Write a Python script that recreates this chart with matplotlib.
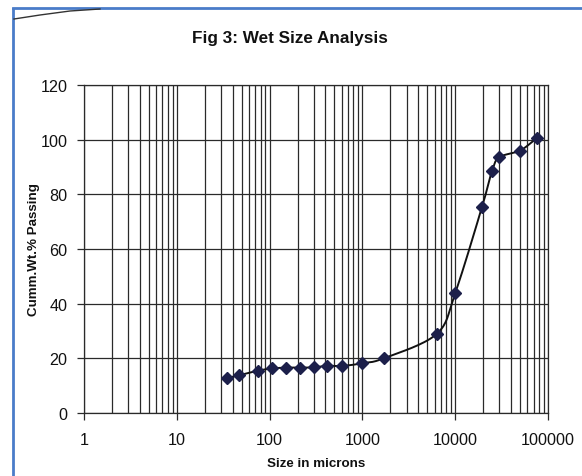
import numpy as np
import matplotlib
matplotlib.use("Agg")
import matplotlib.pyplot as plt
from matplotlib.ticker import LogLocator, FixedLocator, NullFormatter
from matplotlib.lines import Line2D

# ---- data ----
size_microns = [35, 47, 75, 107, 150, 212, 300, 417, 600, 1000,
                1700, 6300, 10000, 19500, 25000, 30000, 50000, 76000]
cum_passing = [12.8, 13.8, 15.5, 16.3, 16.6, 16.6, 16.7, 17.3, 17.2, 18.2,
               20.0, 28.9, 43.9, 75.5, 88.7, 93.6, 96.0, 100.6]
x_tick_values = [1, 10, 100, 1000, 10000, 100000]
x_tick_labels = ["1", "10", "100", "1000", "10000", "100000"]
y_tick_values = [0, 20, 40, 60, 80, 100, 120]

title = "Fig 3: Wet Size Analysis"
xlabel = "Size in microns"
ylabel = "Cumm.Wt.% Passing"

plt.rcParams['font.family'] = ['Liberation Sans', 'DejaVu Sans']

fig = plt.figure(figsize=(5.82, 4.77), dpi=100)
ax = fig.add_axes([84 / 582, 1 - 414 / 477, (548 - 84) / 582, (414 - 86) / 477])

ax.set_xscale('log')
ax.set_xlim(1, 100000)
ax.set_ylim(0, 120)

# grid
ax.xaxis.set_major_locator(FixedLocator(x_tick_values))
ax.xaxis.set_minor_locator(LogLocator(base=10, subs=np.arange(2, 10)))
ax.xaxis.set_minor_formatter(NullFormatter())
ax.set_xticks(x_tick_values)
ax.set_xticklabels(x_tick_labels)
ax.set_yticks(y_tick_values)
ax.grid(which='both', axis='x', color='#2a2a2a', linewidth=0.9)
ax.grid(which='major', axis='y', color='#2a2a2a', linewidth=0.9)
ax.set_axisbelow(True)
ax.tick_params(axis='both', which='major', length=5, width=0.9, color='#2a2a2a',
               labelsize=11.6, pad=7)
ax.tick_params(axis='x', which='major', pad=9)
ax.tick_params(axis='x', which='minor', length=0)
for s in ax.spines.values():
    s.set_color('#2a2a2a')
    s.set_linewidth(0.9)

# smooth line (Catmull-Rom in display-like space)
su, sv = 93.0, 328.0 / 120.0
u = np.log10(np.array(size_microns, float)) * su
v = np.array(cum_passing, float) * sv
P = np.column_stack([u, v])
Pe = np.vstack([P[0] * 2 - P[1], P, P[-1] * 2 - P[-2]])
curve = []
t = np.linspace(0, 1, 20)[:, None]
for i in range(1, len(Pe) - 2):
    p0, p1, p2, p3 = Pe[i - 1], Pe[i], Pe[i + 1], Pe[i + 2]
    seg = 0.5 * ((2 * p1) + (-p0 + p2) * t + (2 * p0 - 5 * p1 + 4 * p2 - p3) * t ** 2
                 + (-p0 + 3 * p1 - 3 * p2 + p3) * t ** 3)
    curve.append(seg if i == 1 else seg[1:])
curve = np.vstack(curve)
ax.plot(10 ** (curve[:, 0] / su), curve[:, 1] / sv, color='#111111', linewidth=1.4, zorder=3)
ax.plot(size_microns, cum_passing, linestyle='none', marker='D', markersize=6,
        color='#1c1f4a', markeredgecolor='#1c1f4a', zorder=4)

for lbl in ax.get_xticklabels() + ax.get_yticklabels():
    lbl.set_color('#111111')

ax.set_xlabel(xlabel, fontsize=9.6, fontweight='bold', labelpad=7, color='#111111')
ax.set_ylabel(ylabel, fontsize=9.6, fontweight='bold', color='#111111')
ax.yaxis.set_label_coords(-44 / 464, 0.5)
fig.text(290 / 582, 1 - 38 / 477, title, ha='center', va='center', fontsize=12.3,
         fontweight='bold', color='#111111')

# page frame (blue border lines + page curl)
fig.add_artist(Line2D([13 / 582, 13 / 582], [0, 1 - 10 / 477], color='#4a7cc9',
                      linewidth=2, transform=fig.transFigure))
fig.add_artist(Line2D([13 / 582, 1], [1 - 9 / 477, 1 - 9 / 477], color='#4a7cc9',
                      linewidth=2, transform=fig.transFigure))
cx = np.array([14, 40, 70, 100]) / 582
cy = 1 - np.array([20, 16, 12, 10]) / 477
fig.add_artist(Line2D(cx, cy, color='#333333', linewidth=1, transform=fig.transFigure))

fig.savefig("out.png", dpi=100, facecolor='white')
